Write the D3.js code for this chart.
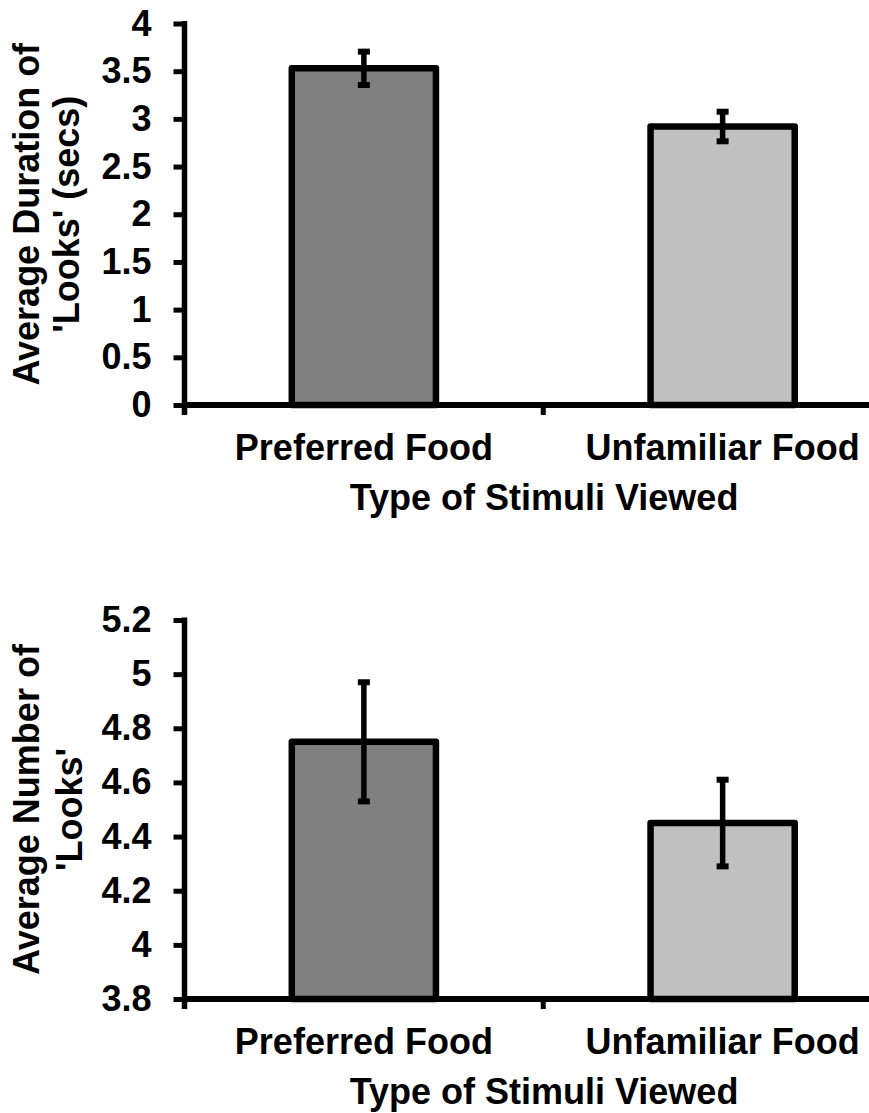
<!DOCTYPE html>
<html>
<head>
<meta charset="utf-8">
<script src="https://cdn.jsdelivr.net/npm/d3@7"></script>
<style>
  html, body { margin: 0; padding: 0; background: #fff; }
  svg { display: block; }
  text { font-family: "Liberation Sans", Arial, sans-serif; font-weight: bold; fill: #000; }
</style>
</head>
<body>
<svg id="chart" width="869" height="1113"></svg>
<script>
// Stimulus categories shared by both panels
const categories = ["Preferred Food", "Unfamiliar Food"];
const barFills = ["#808080", "#c0c0c0"];

// Panel A: average duration of looks (seconds)
const durationMeans = [3.53, 2.92];
const durationErrors = [0.175, 0.155];
const durationTicks = [0, 0.5, 1, 1.5, 2, 2.5, 3, 3.5, 4];
const durationTickLabels = ["0", "0.5", "1", "1.5", "2", "2.5", "3", "3.5", "4"];

// Panel B: average number of looks
const countMeans = [4.75, 4.45];
const countErrors = [0.22, 0.16];
const countTicks = [3.8, 4, 4.2, 4.4, 4.6, 4.8, 5, 5.2];
const countTickLabels = ["3.8", "4", "4.2", "4.4", "4.6", "4.8", "5", "5.2"];

const xTitle = "Type of Stimuli Viewed";

const svg = d3.select("#chart");

function drawPanel(opts) {
  const g = svg.append("g");
  const axisX = 184.5;
  const axisRight = 902;
  const fontSize = 36;

  const y = d3.scaleLinear().domain(opts.domain).range([opts.bottom, opts.top]);
  const x = d3.scaleBand().domain(categories).range([axisX, axisRight])
    .paddingInner(0.58).paddingOuter(0.29);

  // bars
  const sw = 6.5;
  g.selectAll("rect.bar").data(categories).join("rect")
    .attr("class", "bar")
    .attr("x", c => x(c) + sw / 2)
    .attr("width", x.bandwidth() - sw)
    .attr("y", (c, i) => y(opts.means[i]))
    .attr("height", (c, i) => y(opts.domain[0]) - y(opts.means[i]))
    .attr("fill", (c, i) => barFills[i])
    .attr("stroke", "#000")
    .attr("stroke-width", sw)
    .attr("stroke-linejoin", "round");

  // error bars
  const eb = g.selectAll("g.err").data(categories).join("g").attr("class", "err");
  eb.append("line")
    .attr("x1", c => x(c) + x.bandwidth() / 2)
    .attr("x2", c => x(c) + x.bandwidth() / 2)
    .attr("y1", (c, i) => y(opts.means[i] + opts.errors[i]))
    .attr("y2", (c, i) => y(opts.means[i] - opts.errors[i]))
    .attr("stroke", "#000").attr("stroke-width", 5.5);
  [1, -1].forEach(sgn => {
    eb.append("line")
      .attr("x1", c => x(c) + x.bandwidth() / 2 - 6)
      .attr("x2", c => x(c) + x.bandwidth() / 2 + 6)
      .attr("y1", (c, i) => y(opts.means[i] + sgn * opts.errors[i]))
      .attr("y2", (c, i) => y(opts.means[i] + sgn * opts.errors[i]))
      .attr("stroke", "#000").attr("stroke-width", 6);
  });

  // y axis
  const yAxis = d3.axisLeft(y).tickValues(opts.ticks)
    .tickFormat((d, i) => opts.tickLabels[i])
    .tickSizeInner(11).tickSizeOuter(0).tickPadding(22);
  const ya = g.append("g").attr("transform", `translate(${axisX},0)`).call(yAxis);
  ya.select(".domain").remove();
  ya.selectAll(".tick line").attr("stroke", "#000").attr("stroke-width", 5);
  ya.selectAll(".tick text")
    .attr("font-size", fontSize)
    .attr("font-family", "Liberation Sans, Arial, sans-serif")
    .attr("font-weight", "bold")
    .attr("fill", "#000");
  g.append("line")
    .attr("x1", axisX).attr("x2", axisX)
    .attr("y1", opts.top - 2.5).attr("y2", opts.bottom + 10)
    .attr("stroke", "#000").attr("stroke-width", 5.5);

  // x axis
  const xEdges = [axisX, axisX + x.step(), axisX + 2 * x.step()];
  g.append("line")
    .attr("x1", axisX).attr("x2", axisRight)
    .attr("y1", opts.bottom).attr("y2", opts.bottom)
    .attr("stroke", "#000").attr("stroke-width", 6);
  g.selectAll("line.xt").data(xEdges.slice(1)).join("line")
    .attr("class", "xt")
    .attr("x1", d => d).attr("x2", d => d)
    .attr("y1", opts.bottom).attr("y2", opts.bottom + 10)
    .attr("stroke", "#000").attr("stroke-width", 5);

  // category labels
  g.selectAll("text.cat").data(categories).join("text")
    .attr("class", "cat")
    .attr("x", c => x(c) + x.bandwidth() / 2)
    .attr("y", opts.bottom + 55)
    .attr("text-anchor", "middle")
    .attr("font-size", fontSize)
    .text(c => c);

  // x title
  g.append("text")
    .attr("x", 544)
    .attr("y", opts.bottom + 105)
    .attr("text-anchor", "middle")
    .attr("font-size", fontSize)
    .text(xTitle);

  // y title (two lines)
  const cy = (opts.top + opts.bottom) / 2;
  opts.yTitle.forEach((line, i) => {
    g.append("text")
      .attr("transform", `translate(${opts.yTitleX[i]},${cy}) rotate(-90)`)
      .attr("text-anchor", "middle")
      .attr("font-size", fontSize)
      .text(line);
  });
}

drawPanel({
  domain: [0, 4], top: 23.5, bottom: 405,
  means: durationMeans, errors: durationErrors,
  ticks: durationTicks, tickLabels: durationTickLabels,
  yTitle: ["Average Duration of", "'Looks' (secs)"],
  yTitleX: [39, 79]
});

drawPanel({
  domain: [3.8, 5.2], top: 620, bottom: 999,
  means: countMeans, errors: countErrors,
  ticks: countTicks, tickLabels: countTickLabels,
  yTitle: ["Average Number of", "'Looks'"],
  yTitleX: [39, 82]
});
</script>
</body>
</html>
